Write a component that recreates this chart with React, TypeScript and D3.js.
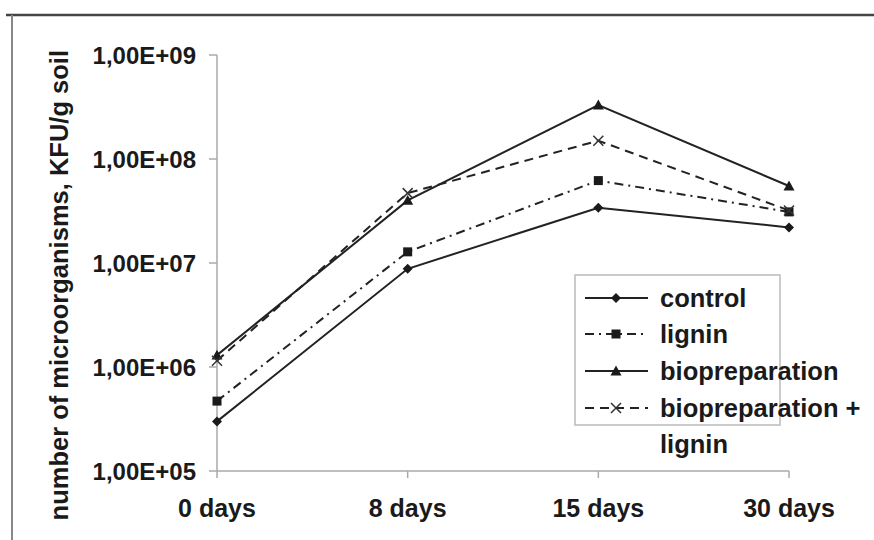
import React from "react";
import * as d3 from "d3";

const categories = ["0 days", "8 days", "15 days", "30 days"];
const controlValues = [3.0e5, 8.8e6, 3.4e7, 2.2e7];
const ligninValues = [4.7e5, 1.28e7, 6.2e7, 3.1e7];
const bioValues = [1.3e6, 4.0e7, 3.3e8, 5.5e7];
const bioLigninValues = [1.15e6, 4.7e7, 1.5e8, 3.2e7];
const yTicks = [1e5, 1e6, 1e7, 1e8, 1e9];
const yTickLabels = ["1,00E+05", "1,00E+06", "1,00E+07", "1,00E+08", "1,00E+09"];
const seriesNames = ["control", "lignin", "biopreparation", "biopreparation +"];
const yTitle = "number of microorganisms, KFU/g soil";

const W = 874;
const H = 540;
const FONT = "'Liberation Sans', Arial, sans-serif";
const INK = "#1a1a1a";

type Marker = "diamond" | "square" | "triangle" | "cross";

const series: { name: string; values: number[]; dash: string; marker: Marker }[] = [
  { name: seriesNames[0], values: controlValues, dash: "", marker: "diamond" },
  { name: seriesNames[1], values: ligninValues, dash: "9 5 2 5", marker: "square" },
  { name: seriesNames[2], values: bioValues, dash: "", marker: "triangle" },
  { name: seriesNames[3], values: bioLigninValues, dash: "9 6", marker: "cross" },
];

function MarkerShape({ type, cx, cy }: { type: Marker; cx: number; cy: number }) {
  if (type === "diamond") {
    const s = 5;
    return <path d={`M${cx},${cy - s}L${cx + s},${cy}L${cx},${cy + s}L${cx - s},${cy}Z`} fill={INK} />;
  }
  if (type === "square") {
    const s = 4.5;
    return <rect x={cx - s} y={cy - s} width={2 * s} height={2 * s} fill={INK} />;
  }
  if (type === "triangle") {
    const s = 5.5;
    return <path d={`M${cx},${cy - s}L${cx + s},${cy + s * 0.8}L${cx - s},${cy + s * 0.8}Z`} fill={INK} />;
  }
  const s = 5;
  return (
    <path
      d={`M${cx - s},${cy - s}L${cx + s},${cy + s}M${cx - s},${cy + s}L${cx + s},${cy - s}`}
      stroke="#333"
      strokeWidth={1.5}
      fill="none"
    />
  );
}

export default function App() {
  const x = d3.scalePoint<string>().domain(categories).range([217, 789]);
  const y = d3.scaleLog().domain([1e5, 1e9]).range([471, 55]);
  const line = d3
    .line<number>()
    .x((_, i) => x(categories[i]) as number)
    .y((d) => y(d));

  const legendX = 575;
  const legendRows = [298, 334, 371, 408];

  return (
    <svg
      width={W}
      height={H}
      style={{ position: "absolute", left: 0, top: 0, background: "#fff" }}
      fontFamily={FONT}
    >
      <rect x={0} y={0} width={W} height={H} fill="#fff" />
      {/* outer frame */}
      <line x1={6} y1={15} x2={W} y2={15} stroke="#444" strokeWidth={2.5} />
      <line x1={12} y1={15} x2={12} y2={H} stroke="#888" strokeWidth={2} />

      {/* axes */}
      <line x1={217} y1={y(1e9)} x2={217} y2={y(1e5)} stroke="#aaa" strokeWidth={1.5} />
      <line x1={217} y1={y(1e5)} x2={789} y2={y(1e5)} stroke="#aaa" strokeWidth={1.5} />
      {yTicks.map((t, i) => (
        <g key={t}>
          <line x1={209} x2={217} y1={y(t)} y2={y(t)} stroke="#aaa" strokeWidth={1.5} />
          <text
            x={196}
            y={y(t)}
            dy="0.36em"
            textAnchor="end"
            fontSize={24}
            fontWeight="bold"
            fill={INK}
          >
            {yTickLabels[i]}
          </text>
        </g>
      ))}
      {categories.map((c) => (
        <g key={c}>
          <line x1={x(c)} x2={x(c)} y1={y(1e5)} y2={y(1e5) + 7} stroke="#aaa" strokeWidth={1.5} />
          <text x={x(c)} y={517} textAnchor="middle" fontSize={25} fontWeight="bold" fill={INK}>
            {c}
          </text>
        </g>
      ))}

      {/* y title */}
      <text
        transform={`translate(68,50) rotate(-90)`}
        textAnchor="end"
        fontSize={25.5}
        fontWeight="bold"
        fill={INK}
      >
        {yTitle}
      </text>

      {/* series */}
      {series.map((s) => (
        <g key={s.name}>
          <path
            d={line(s.values) as string}
            fill="none"
            stroke="#222"
            strokeWidth={2}
            strokeDasharray={s.dash || undefined}
          />
          {s.values.map((v, i) => (
            <MarkerShape key={i} type={s.marker} cx={x(categories[i]) as number} cy={y(v)} />
          ))}
        </g>
      ))}

      {/* legend */}
      <rect x={legendX} y={275} width={205} height={150} fill="#fff" stroke="#bbb" strokeWidth={1.5} />
      {series.map((s, i) => (
        <g key={s.name}>
          <line
            x1={585}
            x2={648}
            y1={legendRows[i]}
            y2={legendRows[i]}
            stroke="#222"
            strokeWidth={2}
            strokeDasharray={s.dash || undefined}
          />
          <MarkerShape type={s.marker} cx={616} cy={legendRows[i]} />
          <text x={660} y={legendRows[i]} dy="0.36em" fontSize={25.5} fontWeight="bold" fill={INK}>
            {s.name}
          </text>
        </g>
      ))}
      <text x={660} y={legendRows[3] + 36} dy="0.36em" fontSize={25.5} fontWeight="bold" fill={INK}>
        lignin
      </text>
    </svg>
  );
}
